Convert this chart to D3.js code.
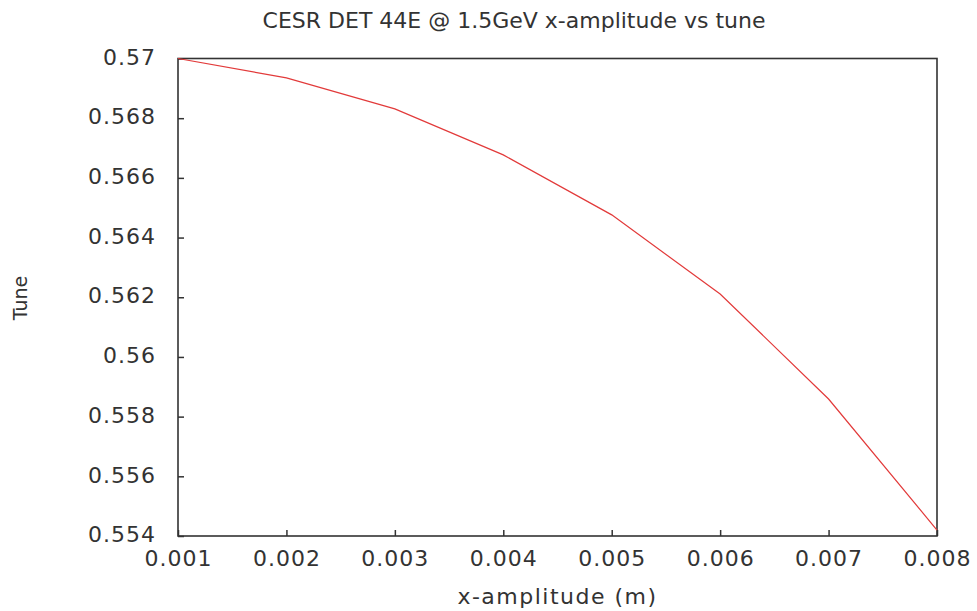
<!DOCTYPE html>
<html>
  <head>
    <meta charset="utf-8">
    <script src="https://d3js.org/d3.v7.min.js"></script>
    <title>CESR DET 44E x-amplitude vs tune</title>
    <style>
      body { margin: 0; background: #fff; }
      text { font-family: "DejaVu Sans", sans-serif; fill: #333; }
    </style>
  </head>
  <body>

    <svg></svg>

    <script type="text/javascript">

      // values
      var amplitude = [0.001, 0.002, 0.003, 0.004, 0.005, 0.006, 0.007, 0.008];
      var tune = [0.5700, 0.56935, 0.56831, 0.56677, 0.56476, 0.56211, 0.55859, 0.55420];
      var xTicks = [0.001, 0.002, 0.003, 0.004, 0.005, 0.006, 0.007, 0.008];
      var yTicks = [0.554, 0.556, 0.558, 0.56, 0.562, 0.564, 0.566, 0.568, 0.57];

      var width = 977, height = 611;
      var plotLeft = 178, plotRight = 937, plotTop = 58.5, plotBottom = 536;

      var x = d3.scaleLinear().domain([0.001, 0.008]).range([plotLeft, plotRight]);
      var y = d3.scaleLinear().domain([0.554, 0.57]).range([plotBottom, plotTop]);

      var svg = d3.select("svg")
                  .attr("width", width)
                  .attr("height", height);

      svg.append("rect")
        .attr("width", width).attr("height", height)
        .attr("fill", "#fff");

      // ticks point inward, gnuplot style
      var xAxis = svg.append("g")
        .attr("transform", "translate(0," + plotBottom + ")")
        .call(d3.axisBottom(x).tickValues(xTicks).tickSize(-6).tickPadding(14)
              .tickFormat(d3.format(".3f")));
      xAxis.select(".domain").remove();
      xAxis.selectAll("text")
        .attr("font-size", 22).attr("font-family", "DejaVu Sans")
        .attr("letter-spacing", 1).attr("fill", "#333");
      xAxis.selectAll("line").attr("stroke", "#333").attr("stroke-width", 1.5);

      var yAxis = svg.append("g")
        .attr("transform", "translate(" + plotLeft + ",0)")
        .call(d3.axisLeft(y).tickValues(yTicks).tickSize(-6).tickPadding(22)
              .tickFormat(d => String(+d.toFixed(3))));
      yAxis.select(".domain").remove();
      yAxis.selectAll("text")
        .attr("font-size", 22).attr("font-family", "DejaVu Sans")
        .attr("letter-spacing", 1).attr("dy", "0.26em").attr("fill", "#333");
      yAxis.selectAll("line").attr("stroke", "#333").attr("stroke-width", 1.5);

      svg.append("rect")
        .attr("x", plotLeft).attr("y", plotTop)
        .attr("width", plotRight - plotLeft).attr("height", plotBottom - plotTop)
        .attr("fill", "none")
        .attr("stroke", "#333")
        .attr("stroke-width", 1.6);

      var line = d3.line()
        .x((d, i) => x(amplitude[i]))
        .y(d => y(d));

      svg.append("path")
        .datum(tune)
        .attr("d", line)
        .attr("fill", "none")
        .attr("stroke", "#e23a3a")
        .attr("stroke-width", 1.2);

      svg.append("text")
        .attr("x", 514).attr("y", 28)
        .attr("text-anchor", "middle")
        .attr("font-size", 22)
        .text("CESR DET 44E @ 1.5GeV x-amplitude vs tune");

      svg.append("text")
        .attr("x", (plotLeft + plotRight) / 2).attr("y", 604)
        .attr("text-anchor", "middle")
        .attr("font-size", 22)
        .attr("letter-spacing", 1.5)
        .text("x-amplitude (m)");

      svg.append("text")
        .attr("transform", "translate(27,298) rotate(-90)")
        .attr("text-anchor", "middle")
        .attr("font-size", 19)
        .text("Tune");

    </script>
  </body>
</html>
